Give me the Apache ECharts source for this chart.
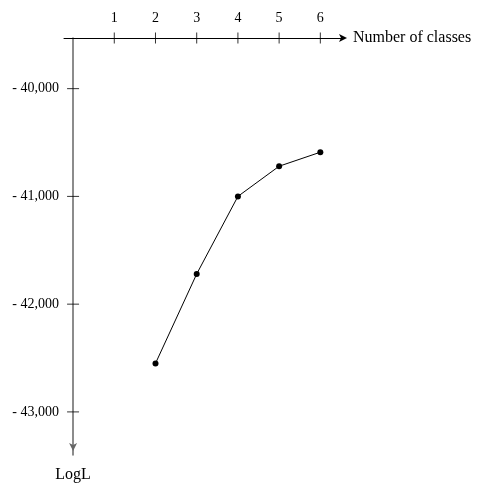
<!DOCTYPE html>
<html><head><meta charset="utf-8">
<script src="https://cdn.jsdelivr.net/npm/echarts@6/dist/echarts.min.js"></script>
<style>html,body{margin:0;padding:0;background:#fff}#c{width:481px;height:483px}</style>
</head><body><div id="c"></div>
<script>
var classes = [2, 3, 4, 5, 6];
var logL = [-42550, -41720, -41000, -40720, -40590];
var xTicks = [1, 2, 3, 4, 5, 6];
var yTicks = [-40000, -41000, -42000, -43000];
var xMin = -0.22, xMax = 6.55, yMin = -43400, yMax = -39530;

var FONT = '"Liberation Serif", "DejaVu Serif", serif';
var chart = echarts.init(document.getElementById('c'));
chart.setOption({
  animation: false,
  grid: {left: 64, right: 138, top: 38, bottom: 26, containLabel: false},
  xAxis: {
    type: 'value', position: 'top', min: xMin, max: xMax, splitLine: {show: false},
    name: 'Number of classes', nameLocation: 'end', nameGap: 10,
    nameTextStyle: {fontFamily: FONT, fontSize: 16, color: '#000'},
    axisLine: {onZero: false, lineStyle: {color: '#000', width: 1}, symbol: ['none', 'arrow'], symbolSize: [6, 8], symbolOffset: [0, 4]},
    axisTick: {show: false},
    axisLabel: {show: true, customValues: xTicks, margin: 13, fontFamily: FONT, fontSize: 14, color: '#000'}
  },
  yAxis: {
    type: 'value', min: yMin, max: yMax, splitLine: {show: false},
    name: 'LogL', nameLocation: 'start', nameGap: 12,
    nameTextStyle: {fontFamily: FONT, fontSize: 16, color: '#000', verticalAlign: 'top'},
    axisLine: {onZero: true, lineStyle: {color: '#666', width: 1.5}, symbol: ['arrow', 'none'], symbolSize: [6, 8], symbolOffset: [4, 0]},
    axisTick: {show: false},
    axisLabel: {show: true, customValues: yTicks, margin: 5, fontFamily: FONT, fontSize: 14, color: '#000',
      formatter: function (v) { return '- ' + Math.abs(v).toLocaleString('en-US'); }}
  },
  series: [{
    type: 'scatter', clip: false, silent: true, symbol: 'rect', symbolSize: [1, 11],
    itemStyle: {color: '#000'},
    data: xTicks.map(function (t) { return [t, yMax]; })
  }, {
    type: 'scatter', clip: false, silent: true, symbol: 'rect', symbolSize: [12, 1],
    itemStyle: {color: '#000'},
    data: yTicks.map(function (t) { return [0, t]; })
  }, {
    type: 'line',
    data: classes.map(function (c, i) { return [c, logL[i]]; }),
    symbol: 'circle', symbolSize: 6,
    lineStyle: {color: '#000', width: 1},
    itemStyle: {color: '#000'}
  }]
});
</script></body></html>
